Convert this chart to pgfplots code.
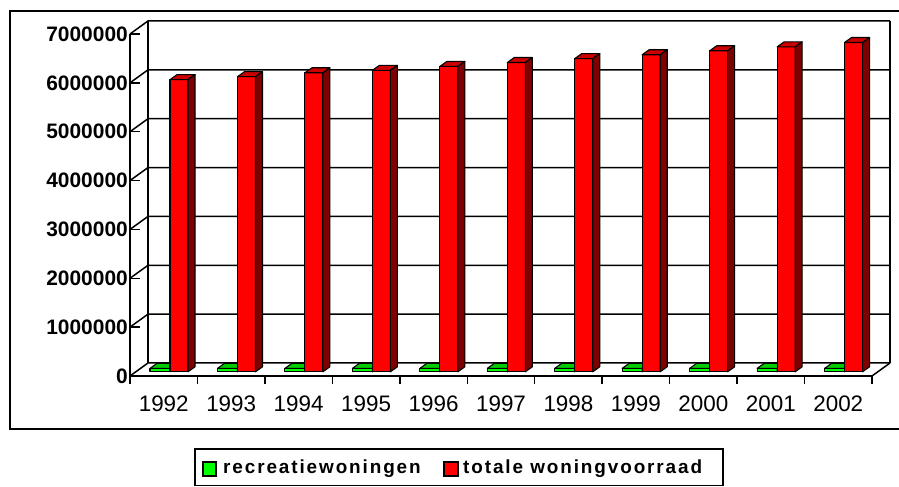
\documentclass[border=0pt]{standalone}
\usepackage{fontspec}
\setmainfont{Liberation Sans}
\newfontfamily\legfont[LetterSpace=10]{Liberation Sans}
\usepackage{pgfplots}
\pgfplotsset{compat=1.18}
\usepackage{pgfplotstable}
\definecolor{rfront}{HTML}{FF0000}
\definecolor{rtop}{HTML}{CC0000}
\definecolor{rside}{HTML}{800000}
\definecolor{gfront}{HTML}{00FF00}
\definecolor{gtop}{HTML}{00CC00}
\definecolor{gside}{HTML}{008000}

\pgfplotstableread{
x recr total
0 70000 5980000
1 70000 6040000
2 70000 6120000
3 70000 6170000
4 70000 6250000
5 70000 6330000
6 70000 6410000
7 70000 6490000
8 70000 6570000
9 70000 6650000
10 70000 6740000
}\housing

% #1 value in millions, #2 left x, #3 right x (bp, relative to category centre), #4 front, #5 top, #6 side
\newcommand\prism[6]{%
  \edef\pB{\fpeval{4.2-(#1)*342/7}}%
  \edef\pBb{\fpeval{\pB+5}}%
  \edef\pL{\fpeval{#2+7}}%
  \edef\pR{\fpeval{#3+7}}%
  \filldraw[fill=#4,draw=black,line width=1.1bp,line join=round] (#2bp,\pB bp) rectangle (#3bp,4.2bp);
  \filldraw[fill=#5,draw=black,line width=1.1bp,line join=round] (#2bp,4.2bp) -- (\pL bp,9.2bp) -- (\pR bp,9.2bp) -- (#3bp,4.2bp) -- cycle;
  \filldraw[fill=#6,draw=black,line width=1.1bp,line join=round] (#3bp,\pB bp) -- (\pR bp,\pBb bp) -- (\pR bp,9.2bp) -- (#3bp,4.2bp) -- cycle;
}

\begin{document}
\begin{tikzpicture}[x=1bp,y=1bp]
\useasboundingbox (0,0) rectangle (899,487);
\fill[white] (0,0) rectangle (899,487);
\draw[line width=2bp] (9.5,58) rectangle (910,476.3);
\begin{axis}[
  at={(130bp,111bp)}, anchor=south west,
  scale only axis, width=742bp, height=342bp,
  xmin=-0.5, xmax=10.5, ymin=0, ymax=7000000,
  clip=false,
  axis line style={draw=none},
  tick pos=left,
  major tick length=10bp,
  xtick={0,1,2,3,4,5,6,7,8,9,10},
  xticklabels={1992,1993,1994,1995,1996,1997,1998,1999,2000,2001,2002},
  xtick style={draw=none},
  ytick={0,1000000,2000000,3000000,4000000,5000000,6000000,7000000},
  ytick style={black,line width=1.5bp},
  scaled y ticks=false,
  /pgf/number format/assume math mode=true,
  yticklabel style={/pgf/number format/fixed,/pgf/number format/1000 sep={},
    font=\fontsize{21}{21}\selectfont\bfseries, inner sep=0pt, xshift=-2bp},
  xticklabel style={font=\fontsize{22.5}{22.5}\selectfont, inner sep=0pt, yshift=-20bp},
]
% back wall and left wall
\pgfplotsinvokeforeach{0,1000000,2000000,3000000,4000000,5000000,6000000,7000000}{
  \draw[line width=1.5bp] (axis cs:-0.5,#1) -- ([shift={(18bp,13bp)}]axis cs:-0.5,#1) -- ([shift={(18bp,13bp)}]axis cs:10.5,#1);
}
\draw[line width=1.5bp] ([shift={(18bp,13bp)}]axis cs:-0.5,0) -- ([shift={(18bp,13bp)}]axis cs:-0.5,7000000);
\draw[line width=1.5bp] ([shift={(18bp,13bp)}]axis cs:10.5,0) -- ([shift={(18bp,13bp)}]axis cs:10.5,7000000);
\draw[line width=1.5bp] (axis cs:10.5,0) -- ([shift={(18bp,13bp)}]axis cs:10.5,0);
\draw[line width=1.5bp] (axis cs:-0.5,7000000) -- (axis cs:-0.5,0) -- (axis cs:10.5,0);
\pgfplotsinvokeforeach{-0.5,0.5,...,10.5}{
  \draw[line width=1.5bp] (axis cs:#1,0) -- ([yshift=-8bp]axis cs:#1,0);
}
% bars
\addplot[scatter, only marks, mark=*, mark size=0pt, mark options={draw=none,fill=none},
  visualization depends on={\thisrow{recr}/1000000 \as \bval},
  scatter/@pre marker code/.code={\prism{\bval}{-13.7}{6.3}{gfront}{gtop}{gside}},
  scatter/@post marker code/.code={}]
  table[x=x,y=recr]{\housing};
\addplot[scatter, only marks, mark=*, mark size=0pt, mark options={draw=none,fill=none},
  visualization depends on={\thisrow{total}/1000000 \as \bval},
  scatter/@pre marker code/.code={\prism{\bval}{6.3}{24.3}{rfront}{rtop}{rside}},
  scatter/@post marker code/.code={}]
  table[x=x,y=total]{\housing};
\end{axis}
% legend
\draw[line width=1.5bp] (195,38) rectangle (723,1.5);
\filldraw[fill=gfront, line width=1.2bp] (203,11) rectangle (216,25);
\node[anchor=base west, inner sep=0pt, font=\legfont\fontsize{19}{19}\selectfont\bfseries] at (223,13.6) {recreatiewoningen};
\filldraw[fill=rfront, line width=1.2bp] (444,11) rectangle (458,25);
\node[anchor=base west, inner sep=0pt, font=\legfont\fontsize{19}{19}\selectfont\bfseries] at (463,13.6) {totale woningvoorraad};
\end{tikzpicture}
\end{document}
